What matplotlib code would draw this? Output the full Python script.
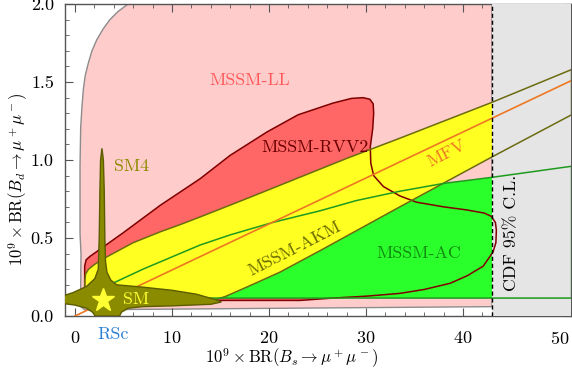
import numpy as np
import matplotlib.pyplot as plt
from matplotlib.patches import Polygon

plt.rcParams['font.family'] = 'serif'
plt.rcParams['font.serif'] = ['cmr10']
plt.rcParams['mathtext.fontset'] = 'cm'
plt.rcParams['axes.formatter.use_mathtext'] = True

# region outlines (x = BR(Bs), y = BR(Bd))
ll_x = [0.6, 0.59, 0.62, 0.52, 0.52, 0.59, 0.72, 0.86, 1.05, 1.37, 1.75, 2.24, 2.9, 3.6, 4.4, 5.46, 8.0,
        43.0, 43.0, 1.0]
ll_y = [0.06, 0.17, 0.40, 0.53, 0.96, 1.21, 1.34, 1.45, 1.54, 1.62, 1.70, 1.77, 1.84, 1.90, 1.95, 2.0, 2.1,
        2.1, 0.06, 0.04]

rvv2_x = [1.0, 1.0, 1.15, 1.5, 5.0, 8.8, 12.9, 16.0, 19.8, 23.0, 26.6, 28.5, 29.7, 30.4,
          30.75, 30.8, 30.7, 30.45, 30.5, 30.8, 31.8, 33.5, 35.2, 38.0, 40.4, 42.2, 42.9,
          43.35, 43.45, 43.4, 43.1, 42.1, 40.5, 38.7, 36.0, 33.5, 30.0, 26.6, 23.2]
rvv2_y = [0.10, 0.32, 0.36, 0.38, 0.535, 0.71, 0.88, 1.03, 1.18, 1.29, 1.365, 1.395, 1.40, 1.39,
          1.36, 1.30, 1.20, 1.085, 0.98, 0.90, 0.83, 0.77, 0.73, 0.70, 0.68, 0.66, 0.64,
          0.60, 0.55, 0.47, 0.41, 0.32, 0.26, 0.21, 0.17, 0.145, 0.127, 0.115, 0.10]

akm_x = [1.0, 1.1, 1.4, 2.0, 3.0, 4.5, 6.0, 8.8, 10.8, 12.9, 18.0, 23.2, 28.0, 33.5, 43.0, 51.2,
         51.2, 43.0, 33.5, 25.3, 21.1, 17.7, 15.5, 14.2, 12.0, 5.0, 1.5, 1.05]
akm_y = [0.22, 0.27, 0.30, 0.33, 0.37, 0.42, 0.47, 0.54, 0.585, 0.635, 0.76, 0.89, 1.01, 1.14, 1.37, 1.58,
         1.29, 1.02, 0.70, 0.42, 0.28, 0.185, 0.125, 0.10, 0.09, 0.09, 0.10, 0.14]

ac_x = [1.5, 3.9, 7.0, 10.8, 12.9, 16.0, 20.4, 23.0, 25.3, 29.0, 33.5, 38.0, 43.1, 51.2, 51.2, 1.5]
ac_y = [0.14, 0.21, 0.30, 0.40, 0.455, 0.52, 0.60, 0.64, 0.675, 0.74, 0.80, 0.85, 0.89, 0.96, 0.115, 0.115]

sm4_x = [2.78, 2.93, 3.02, 3.08, 3.15, 3.3, 3.7, 4.3, 7.0, 10.0, 12.5, 14.5, 15.1, 14.0, 10.0, 7.0,
         5.5, 4.8, 4.6, 2.1, 1.8, 1.2, 0.0, -1.2, -1.2, -0.2, 1.2, 2.05, 2.4, 2.5, 2.57, 2.64]
sm4_y = [1.075, 1.0, 0.8, 0.5, 0.35, 0.28, 0.23, 0.2, 0.185, 0.165, 0.14, 0.105, 0.09, 0.075, 0.065, 0.06,
         0.05, 0.025, 0.0, 0.0, 0.025, 0.05, 0.07, 0.08, 0.13, 0.15, 0.19, 0.24, 0.3, 0.5, 0.8, 1.0]

mfv_x = [0.0, 51.2]
mfv_y = [0.0, 1.51]

sm_point = (2.9, 0.10)
cdf_limit = 43.0

fig, ax = plt.subplots(figsize=(5.72, 3.69), dpi=100)
fig.subplots_adjust(left=0.1136, right=0.998, bottom=0.1436, top=0.989)

# fills
ax.add_patch(Polygon(np.column_stack([ll_x, ll_y]), closed=True, fc='#ffcccc', ec='#8c8c8c', lw=1.0, zorder=1))
ax.add_patch(Polygon(np.column_stack([rvv2_x, rvv2_y]), closed=True, fc='#ff6666', ec='none', zorder=2))
ax.add_patch(Polygon(np.column_stack([ac_x, ac_y]), closed=True, fc='#2bff2b', ec='none', zorder=3))
ax.add_patch(Polygon(np.column_stack([akm_x, akm_y]), closed=True, fc='#ffff22', ec='none', zorder=4))

# excluded region
ax.axvspan(cdf_limit, 60, color='#e5e5e5', zorder=5, lw=0)

# outlines
ax.add_patch(Polygon(np.column_stack([rvv2_x, rvv2_y]), closed=True, fc='none', ec='#800000', lw=1.1, zorder=6))
ax.add_patch(Polygon(np.column_stack([akm_x, akm_y]), closed=True, fc='none', ec='#6b6b10', lw=1.1, zorder=6))
ax.add_patch(Polygon(np.column_stack([ac_x, ac_y]), closed=True, fc='none', ec='#1f9a1f', lw=1.1, zorder=6))
ax.plot(mfv_x, mfv_y, color='#ee7722', lw=1.2, zorder=6.5)

ax.add_patch(Polygon(np.column_stack([sm4_x, sm4_y]), closed=True, fc='#8b8b00', ec='#5c5c00', lw=1.0, zorder=7))
ax.plot(*sm_point, marker='*', ms=17, color='#ffff33', mec='#ffff33', zorder=8)

ax.axvline(cdf_limit, color='black', ls=(0, (3, 2)), lw=1.0, zorder=9)

# labels
fs = 12.8
ax.text(18.0, 1.51, 'MSSM-LL', color='#ff5a5a', fontsize=fs, ha='center', va='center', zorder=10)
ax.text(24.7, 1.08, 'MSSM-RVV2', color='#6b0000', fontsize=fs, ha='center', va='center', zorder=10)
ax.text(22.6, 0.43, 'MSSM-AKM', color='#6b6b00', fontsize=fs, ha='center', va='center', rotation=27, zorder=10)
ax.text(35.4, 0.40, 'MSSM-AC', color='#118a11', fontsize=fs, ha='center', va='center', zorder=10)
ax.text(38.3, 1.04, 'MFV', color='#ee7722', fontsize=fs, ha='center', va='center', rotation=27, zorder=10)
ax.text(45.0, 0.53, 'CDF 95% C.L.', color='black', fontsize=fs, ha='center', va='center', rotation=90, zorder=10)
ax.text(5.8, 0.96, 'SM4', color='#8b8b00', fontsize=fs, ha='center', va='center', zorder=10)
ax.text(6.3, 0.105, 'SM', color='#ffff33', fontsize=fs, ha='center', va='center', zorder=10)

ax.set_xlim(-1.03, 51.13)
ax.set_ylim(0, 2.0)
ax.set_xticks([0, 10, 20, 30, 40, 50])
ax.set_xticks(np.arange(0, 52, 2), minor=True)
ax.set_yticks([0.0, 0.5, 1.0, 1.5, 2.0])
ax.set_yticks(np.arange(0, 2.01, 0.1), minor=True)
ax.set_yticklabels(['0.0', '0.5', '1.0', '1.5', '2.0'])
ax.tick_params(which='both', direction='in', top=True, right=True, color='#555555', labelsize=13)
ax.tick_params(which='major', length=6)
ax.tick_params(axis='x', which='major', pad=10)
ax.tick_params(axis='y', which='major', pad=8)
ax.tick_params(which='minor', length=3)
for s in ax.spines.values():
    s.set_color('#555555')
    s.set_linewidth(1.0)

ax.text(3.9, -0.033, 'RSc', color='#2a7fd4', fontsize=13, ha='center', va='top',
        transform=ax.get_xaxis_transform(), clip_on=False, zorder=10)

ax.set_xlabel(r'$10^9\times\mathrm{BR}(B_s\to\mu^+\mu^-)$', fontsize=12)
ax.set_ylabel(r'$10^9\times\mathrm{BR}(B_d\to\mu^+\mu^-)$', fontsize=12)
ax.xaxis.set_label_coords(0.448, -0.098)
ax.yaxis.set_label_coords(-0.07, 0.44)

plt.savefig('out.png')
